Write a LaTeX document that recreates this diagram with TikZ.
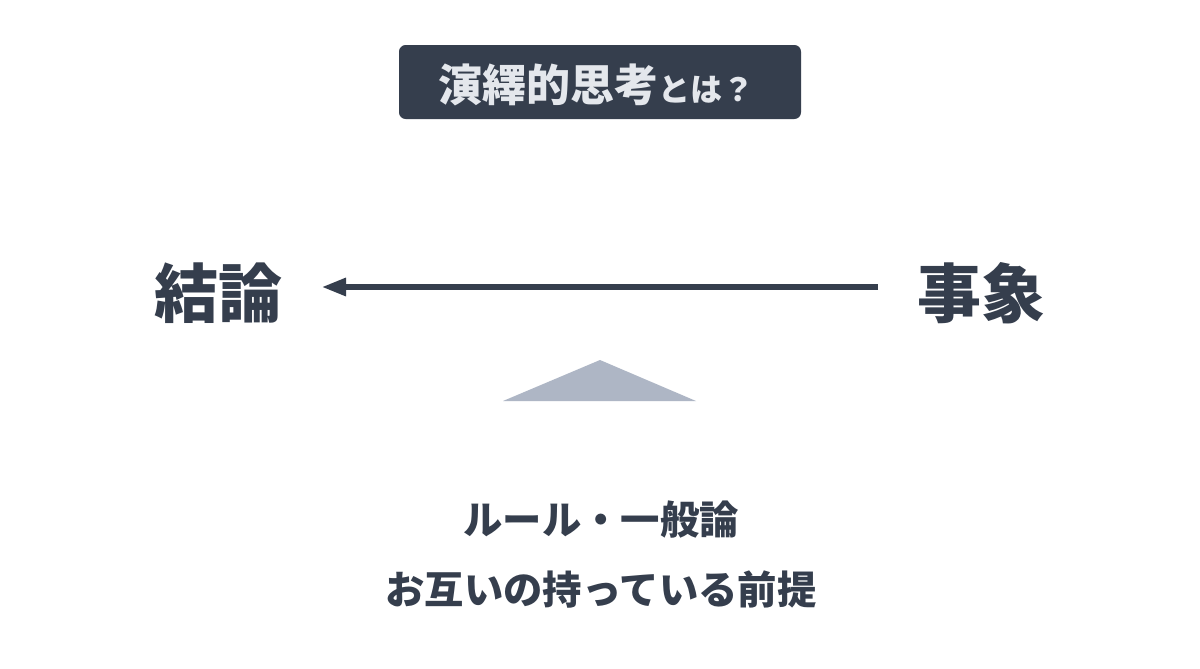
\documentclass[tikz,border=0pt]{standalone}
\usepackage{fontspec}
\newfontfamily\cjk{Noto Sans CJK JP}
\definecolor{navy}{HTML}{353E4D}
\definecolor{titletext}{HTML}{E4E7EC}
\definecolor{tri}{HTML}{AEB6C5}
\usetikzlibrary{arrows.meta}
\tikzset{
  big/.style={font=\cjk\bfseries\fontsize{48}{50}\selectfont, text=navy, inner sep=0pt},
  lower/.style={font=\cjk\bfseries\fontsize{29.5}{31}\selectfont, text=navy, inner sep=0pt},
  titlebox/.style={fill=navy, rounded corners=5pt, minimum width=402*0.75pt, minimum height=74*0.75pt, inner sep=0pt},
}
\begin{document}
\begin{tikzpicture}[x=0.75pt,y=-0.75pt]
\fill[white] (0,0) rectangle (1200,668);
\useasboundingbox (0,0) rectangle (1200,668);
\node[titlebox] (title) at (600,82) {};
\node[inner sep=0pt, text=titletext, anchor=base] (titletxt) at (596,101)
  {\cjk\bfseries\fontsize{33}{35}\selectfont 演繹的思考{\fontsize{24}{26}\selectfont とは？}};
\node[big] (concl) at (218,293) {結論};
\node[big] (fact) at (981,293) {事象};
\coordinate (arrS) at (878,287);
\coordinate (arrE) at (322,287);
\draw[navy, line width=3.8pt, -{Triangle[length=18pt,width=13pt]}] (arrS) -- (arrE);
\fill[tri] (600,360) -- (696,401) -- (503,401) -- cycle;
\node[lower] (rule) at (601,520) {ルール・一般論};
\node[lower] (premise) at (601,590) {お互いの持っている前提};
\end{tikzpicture}
\end{document}
